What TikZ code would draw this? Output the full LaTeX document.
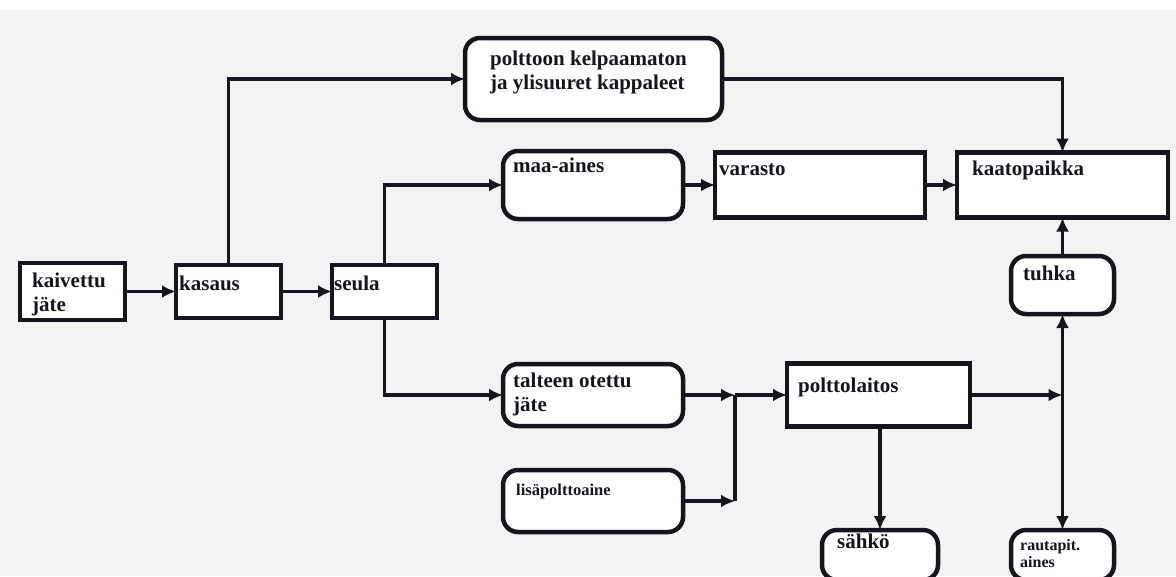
\documentclass[tikz,border=0pt]{standalone}
\usepackage{fontspec}
\setmainfont{Liberation Serif}
\usetikzlibrary{arrows.meta}
\definecolor{bg}{HTML}{F3F3F3}
\definecolor{ink}{HTML}{15151E}
\newcommand\bigf{\fontsize{21}{24}\selectfont\bfseries}
\newcommand\midf{\fontsize{16.5}{19}\selectfont\bfseries}
\newcommand\smallf{\fontsize{16}{17}\selectfont\bfseries}
\begin{document}
\begin{tikzpicture}[x=1pt,y=-1pt,
  sq/.style={draw=ink, line width=4.5pt, fill=white, inner sep=0pt, outer sep=0pt},
  rd/.style={sq, rounded corners=15pt},
  conn/.style={draw=ink, line width=3.5pt},
  arr/.style={conn, -{Latex[length=14pt,width=13pt]}},
  txt/.style={inner sep=0pt, anchor=north west, align=left, text=ink, font=\bigf}]
\useasboundingbox (0,0) rectangle (1176,576);
\clip (0,0) rectangle (1176,576);
\fill[bg] (0,0) rectangle (1176,576);
\fill[white] (0,0) rectangle (1176,10);

% boxes
\node[sq, minimum width=105pt, minimum height=57pt] (kaiv) at (72.5,291.5) {};
\node[sq, minimum width=105pt, minimum height=53pt] (kasaus) at (228.5,291.5) {};
\node[sq, minimum width=105pt, minimum height=53pt] (seula) at (384.5,291.5) {};
\node[rd, minimum width=257pt, minimum height=82pt] (polt) at (593.5,79) {};
\node[rd, minimum width=180pt, minimum height=68pt] (maa) at (593,185) {};
\node[sq, minimum width=210pt, minimum height=65pt] (var) at (820,185) {};
\node[sq, minimum width=211pt, minimum height=65pt] (kaato) at (1062.5,185) {};
\node[rd, minimum width=103pt, minimum height=58pt] (tuhka) at (1062.5,285) {};
\node[rd, minimum width=180pt, minimum height=62pt] (tal) at (593,395) {};
\node[rd, minimum width=180pt, minimum height=62pt] (lisa) at (593,501) {};
\node[sq, minimum width=183pt, minimum height=63pt] (ptl) at (878.5,395) {};
\node[rd, minimum width=116pt, minimum height=50pt] (sahko) at (880,555) {};
\node[rd, minimum width=103pt, minimum height=50pt] (raut) at (1062.5,555) {};

% texts
\node[txt] (tkaiv) at (32,270.2) {\strut kaivettu\\jäte};
\node[txt] (tkasaus) at (179,273.2) {\strut kasaus};
\node[txt] (tseula) at (334,273.2) {\strut seula};
\node[txt] (tpolt) at (490,48.2) {\strut polttoon kelpaamaton\\ja ylisuuret kappaleet};
\node[txt] (tmaa) at (513,155.2) {\strut maa-aines};
\node[txt] (tvar) at (719,158.2) {\strut varasto};
\node[txt] (tkaato) at (972,158.2) {\strut kaatopaikka};
\node[txt] (ttuhka) at (1023,263.2) {\strut tuhka};
\node[txt] (ttal) at (513,370.2) {\strut talteen otettu\\jäte};
\node[txt, font=\midf] (tlisa) at (516,481.7) {\strut lisäpolttoaine};
\node[txt] (tptl) at (798,375.2) {\strut polttolaitos};
\node[txt] (tsahko) at (837,531.2) {\strut sähkö};
\node[txt, font=\smallf] (traut) at (1020,538.1) {\strut rautapit.\\aines};

% junctions
\coordinate (j1) at (735,395);
\coordinate (j2) at (1062.5,395);

% connectors
\draw[arr] (kaiv.east) -- (kasaus.west);
\draw[arr] (kasaus.east) -- (seula.west);
\draw[arr] (kasaus.north) |- (polt.west);
\draw[arr] (polt.east) -| (kaato.north);
\draw[arr] (seula.north) |- (maa.west);
\draw[arr] (seula.south) |- (tal.west);
\draw[arr] (maa.east) -- (var.west);
\draw[arr] (var.east) -- (kaato.west);
\draw[arr] (tal.east) -- (j1);
\draw[arr] (lisa.east) -- (j1 |- lisa.east);
\draw[conn] (j1) -- (j1 |- lisa.east);
\draw[arr] (j1) -- (ptl.west);
\draw[arr] (ptl.east) -- (j2);
\draw[arr] (j2) -- (tuhka.south);
\draw[arr] (j2) -- (raut.north);
\draw[arr] (tuhka.north) -- (kaato.south);
\draw[arr] (sahko.north |- ptl.south) -- (sahko.north);
\end{tikzpicture}
\end{document}
